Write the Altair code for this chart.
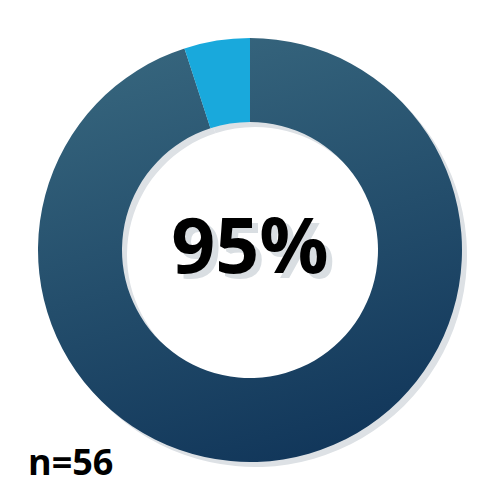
import altair as alt
import pandas as pd

categories = ["Yes", "No"]
values = [95, 5]
order = [1, 2]
center_label = ["95%"]
n_label = ["n=56"]

df = pd.DataFrame({"cat": categories, "value": values, "order": order})
W = H = 484
cx, cy = 242, 242
R_OUT, R_IN = 212, 128

grad = alt.Gradient(
    gradient="linear",
    stops=[alt.GradientStop(color="#36657d", offset=0),
           alt.GradientStop(color="#11365a", offset=1)],
    x1=0.35, x2=0.65, y1=0, y2=1,
)

base = alt.Chart(df)

shadow = base.mark_arc(radius=R_OUT, radius2=R_IN, x=cx + 5, y=cy + 5, color="#dde1e5").encode(
    theta=alt.Theta("value:Q", stack=True), order=alt.Order("order:Q")
)

donut = base.mark_arc(radius=R_OUT, radius2=R_IN, x=cx, y=cy).encode(
    theta=alt.Theta("value:Q", stack=True),
    order=alt.Order("order:Q"),
    color=alt.condition(alt.datum.cat == "Yes", alt.value(grad), alt.value("#19a9dc")),
)

tdf = pd.DataFrame({"label": center_label})
tshadow = alt.Chart(tdf).mark_text(
    font="Open Sans", fontWeight="bold", fontSize=77, color="#d9dee2",
    x=cx + 6, y=cy + 5, baseline="middle", align="center"
).encode(text="label:N")
tmain = alt.Chart(tdf).mark_text(
    font="Open Sans", fontWeight="bold", fontSize=77, color="#000000",
    x=cx, y=cy, baseline="middle", align="center"
).encode(text="label:N")

ndf = pd.DataFrame({"label": n_label})
ntext = alt.Chart(ndf).mark_text(
    font="Open Sans", fontWeight="bold", fontSize=36, color="#000000",
    x=20, y=467, baseline="alphabetic", align="left"
).encode(text="label:N")

chart = alt.layer(shadow, donut, tshadow, tmain, ntext).properties(
    width=W, height=H, autosize=alt.AutoSizeParams(type="none"), padding=0
).configure_view(stroke=None)

chart.save("out.html", embed_options={"renderer": "svg", "actions": False})
